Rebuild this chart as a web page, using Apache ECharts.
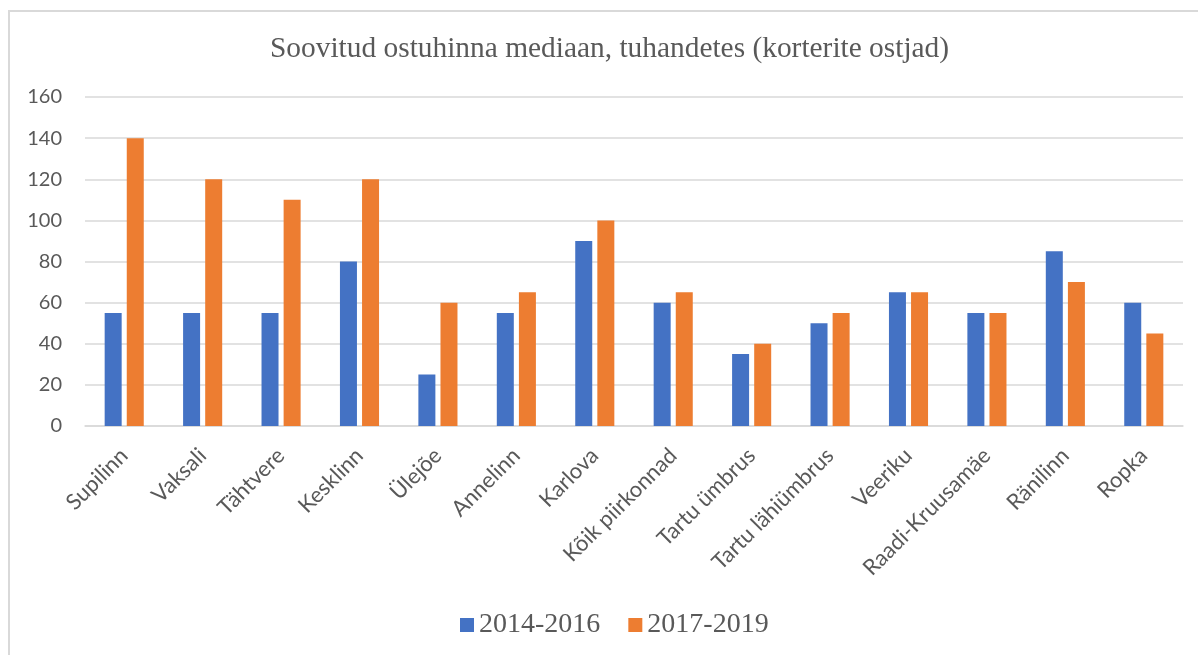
<!DOCTYPE html>
<html>
<head>
<meta charset="utf-8">
<script src="https://cdn.jsdelivr.net/npm/echarts@6/dist/echarts.min.js"></script>
<style>
html,body{margin:0;padding:0;background:#fff;}
#chart{width:1198px;height:655px;}
</style>
</head>
<body>
<div id="chart"></div>
<script>
const categories = ['Supilinn','Vaksali','Tähtvere','Kesklinn','Ülejõe','Annelinn','Karlova','Kõik piirkonnad','Tartu ümbrus','Tartu lähiümbrus','Veeriku','Raadi-Kruusamäe','Ränilinn','Ropka'];
const series2014 = [55,55,55,80,25,55,90,60,35,50,65,55,85,60];
const series2017 = [140,120,110,120,60,65,100,65,40,55,65,55,70,45];
const seriesNames = ['2014-2016','2017-2019'];
const titleText = 'Soovitud ostuhinna mediaan, tuhandetes (korterite ostjad)';

const chart = echarts.init(document.getElementById('chart'));
chart.setOption({
  backgroundColor: '#fff',
  animation: false,
  graphic: [{
    type: 'rect', silent: true, z: -1,
    shape: {x: 9, y: 11, width: 1300, height: 800},
    style: {fill: 'none', stroke: '#d9d9d9', lineWidth: 2}
  }],
  title: {
    text: titleText,
    left: 265,
    top: 30,
    textStyle: {fontFamily: 'Liberation Serif', fontSize: 29.4, fontWeight: 'normal', color: '#595959'}
  },
  legend: {
    data: seriesNames,
    left: 455,
    top: 606,
    itemWidth: 14,
    itemHeight: 14,
    itemGap: 28,
    icon: 'rect',
    textStyle: {fontFamily: 'Liberation Serif', fontSize: 28, color: '#595959'}
  },
  grid: {left: 85, right: 15, top: 97, bottom: 229},
  xAxis: {
    type: 'category',
    data: categories,
    axisLine: {lineStyle: {color: '#d9d9d9', width: 1.5}},
    axisTick: {show: false},
    axisLabel: {rotate: 45, interval: 0, margin: 26, fontFamily: 'Lato', fontSize: 22, color: '#595959'}
  },
  yAxis: {
    type: 'value',
    min: 0, max: 160, interval: 20,
    axisLine: {show: false},
    axisTick: {show: false},
    splitLine: {lineStyle: {color: '#d9d9d9', width: 1.5}},
    axisLabel: {margin: 23, fontFamily: 'Lato', fontSize: 20, color: '#595959'}
  },
  series: [
    {name: seriesNames[0], type: 'bar', data: series2014, barWidth: 17, barGap: '30%', itemStyle: {color: '#4472C4'}},
    {name: seriesNames[1], type: 'bar', data: series2017, barWidth: 17, barGap: '30%', itemStyle: {color: '#ED7D31'}}
  ]
});
</script>
</body>
</html>
